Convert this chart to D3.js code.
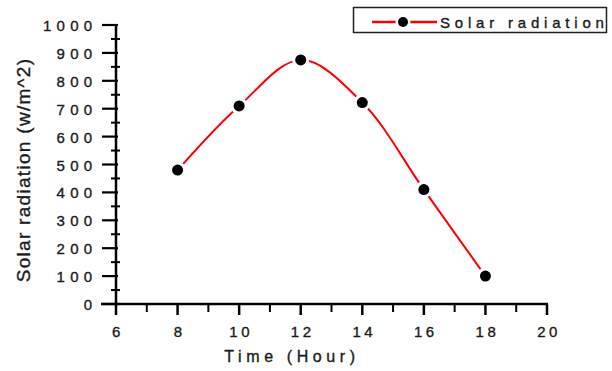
<!DOCTYPE html>
<html><head><meta charset="utf-8">
<script src="https://cdn.jsdelivr.net/npm/d3@7"></script>
<style>body{margin:0;background:#fff}svg{display:block}text{font-family:Arial,"Liberation Sans",sans-serif;fill:#1a1a1a;stroke:#1a1a1a;stroke-width:0.35px}</style>
</head><body>
<svg id="c" width="612" height="371"></svg>
<script>
const hours = [8, 10, 12, 14, 16, 18];
const radiation = [480, 710, 875, 722, 410, 100];
const xTicks = [6, 8, 10, 12, 14, 16, 18, 20];
const yTicks = [0, 100, 200, 300, 400, 500, 600, 700, 800, 900, 1000];
const seriesName = "Solar radiation";

const svg = d3.select("#c");
const x = d3.scaleLinear().domain([6, 20]).range([116, 547]);
const y = d3.scaleLinear().domain([0, 1000]).range([304, 25]);

// axes lines
svg.append("line").attr("x1", 101).attr("x2", 548).attr("y1", y(0)).attr("y2", y(0)).attr("stroke", "#000").attr("stroke-width", 2.5);
svg.append("line").attr("x1", x(6)).attr("x2", x(6)).attr("y1", y(0) + 1).attr("y2", y(1000) - 1).attr("stroke", "#000").attr("stroke-width", 2.5);

// y ticks
const yMinor = d3.range(50, 1000, 100);
svg.selectAll(".ymaj").data(yTicks).join("line").attr("x1", x(6) - 14).attr("x2", x(6) + 2).attr("y1", d => y(d)).attr("y2", d => y(d)).attr("stroke", "#000").attr("stroke-width", 2.2);
svg.selectAll(".ymin").data(yMinor).join("line").attr("x1", x(6) - 5).attr("x2", x(6) + 4).attr("y1", d => y(d)).attr("y2", d => y(d)).attr("stroke", "#000").attr("stroke-width", 2);
svg.selectAll(".ylab").data(yTicks).join("text").attr("x", 97.5).attr("y", d => y(d) + 6).attr("text-anchor", "end").attr("font-size", 15).attr("letter-spacing", 5.3).text(d => d);

// x ticks
const xMinor = d3.range(7, 20, 2);
svg.selectAll(".xmaj").data(xTicks).join("line").attr("x1", d => x(d)).attr("x2", d => x(d)).attr("y1", y(0)).attr("y2", y(0) + 11).attr("stroke", "#000").attr("stroke-width", 2.5);
svg.selectAll(".xmin").data(xMinor).join("line").attr("x1", d => x(d)).attr("x2", d => x(d)).attr("y1", y(0)).attr("y2", y(0) + 8).attr("stroke", "#000").attr("stroke-width", 2);
svg.selectAll(".xlab").data(xTicks).join("text").attr("x", d => x(d) + 2).attr("y", 337).attr("text-anchor", "middle").attr("font-size", 15).attr("letter-spacing", 3.5).text(d => d);

// titles
svg.append("text").attr("x", 292).attr("y", 362).attr("text-anchor", "middle").attr("font-size", 16).attr("letter-spacing", 4.6).text("Time (Hour)");
svg.append("text").attr("transform", "translate(30,170) rotate(-90)").attr("text-anchor", "middle").attr("font-size", 19).attr("letter-spacing", 1.3).text("Solar radiation (w/m^2)");

// line
const pts = hours.map((h, i) => [h, radiation[i]]);
const line = d3.line().x(d => x(d[0])).y(d => y(d[1])).curve(d3.curveCatmullRom.alpha(0.5));
svg.append("path").attr("d", line(pts)).attr("fill", "none").attr("stroke", "#f00").attr("stroke-width", 2);
svg.selectAll(".halo").data(pts).join("circle").attr("cx", d => x(d[0])).attr("cy", d => y(d[1])).attr("r", 8.5).attr("fill", "#fff");
svg.selectAll(".pt").data(pts).join("circle").attr("cx", d => x(d[0])).attr("cy", d => y(d[1])).attr("r", 5.5).attr("fill", "#000");

// legend
svg.append("rect").attr("x", 353.5).attr("y", 7.5).attr("width", 253).attr("height", 25).attr("fill", "#fff").attr("stroke", "#222").attr("stroke-width", 1.5);
svg.append("line").attr("x1", 372).attr("x2", 437).attr("y1", 22).attr("y2", 22).attr("stroke", "#f00").attr("stroke-width", 2.5);
svg.append("circle").attr("cx", 403).attr("cy", 22).attr("r", 7.5).attr("fill", "#fff");
svg.append("circle").attr("cx", 403).attr("cy", 22).attr("r", 5).attr("fill", "#000");
svg.append("text").attr("x", 440).attr("y", 27.5).attr("font-size", 15).attr("letter-spacing", 4.8).text(seriesName);
</script>
</body></html>
